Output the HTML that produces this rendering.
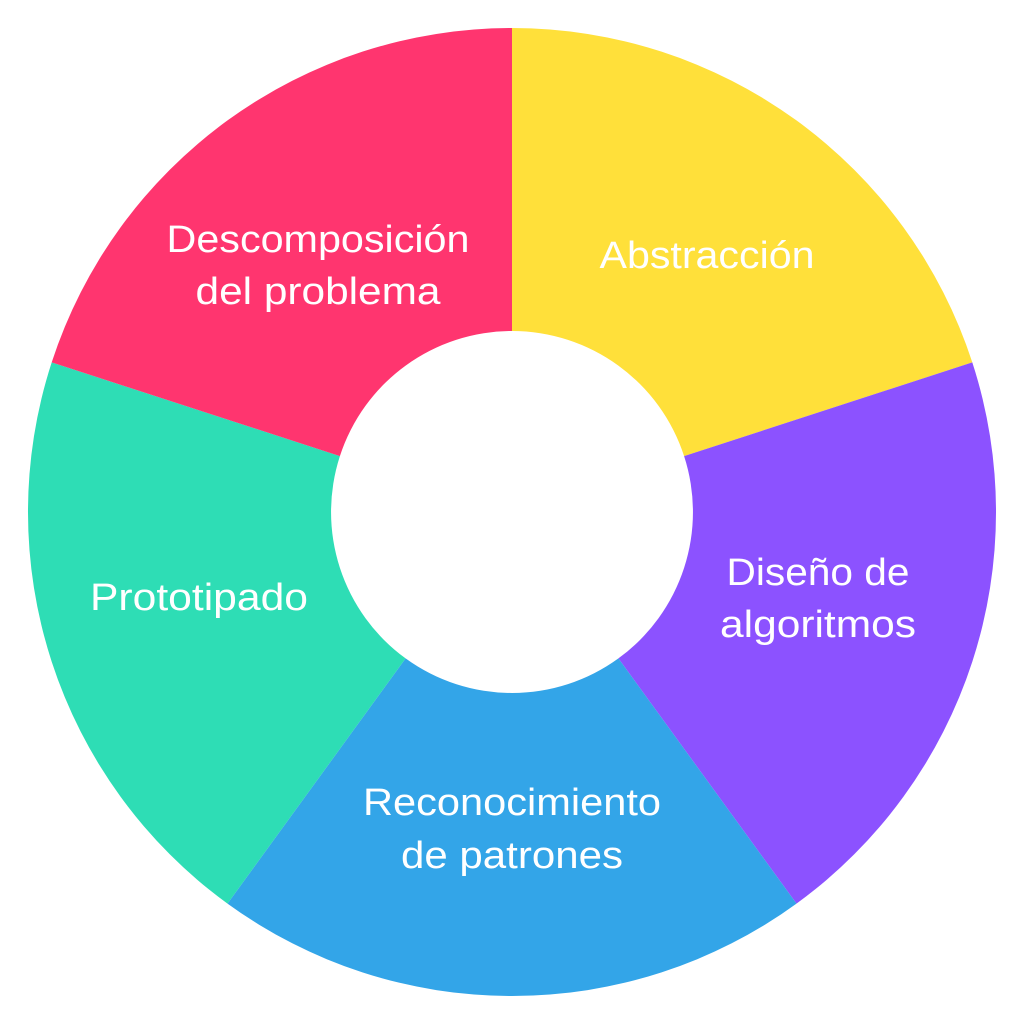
<!DOCTYPE html>
<html><head><meta charset="utf-8"><style>html,body{margin:0;padding:0;background:#fff}svg{display:block}</style></head>
<body>
<svg width="1024" height="1024" viewBox="0 0 1024 1024" xmlns="http://www.w3.org/2000/svg">
<path d="M512,28 A484,484 0 0 1 972.3,362.4 L684.1,456.1 A181,181 0 0 0 512,331 Z" fill="#FFE03A"/>
<path d="M972.3,362.4 A484,484 0 0 1 796.5,903.6 L618.4,658.4 A181,181 0 0 0 684.1,456.1 Z" fill="#8C52FF"/>
<path d="M796.5,903.6 A484,484 0 0 1 227.5,903.6 L405.6,658.4 A181,181 0 0 0 618.4,658.4 Z" fill="#33A5E8"/>
<path d="M227.5,903.6 A484,484 0 0 1 51.7,362.4 L339.9,456.1 A181,181 0 0 0 405.6,658.4 Z" fill="#2EDDB5"/>
<path d="M51.7,362.4 A484,484 0 0 1 512,28 L512,331 A181,181 0 0 0 339.9,456.1 Z" fill="#FF356F"/>
<g fill="#fff" font-family="Liberation Sans, sans-serif" font-size="38" text-anchor="middle" lengthAdjust="spacingAndGlyphs">
<text x="707" y="268" textLength="215" lengthAdjust="spacingAndGlyphs">Abstracción</text>
<text x="318" y="252" textLength="303" lengthAdjust="spacingAndGlyphs">Descomposición</text>
<text x="318" y="304" textLength="245" lengthAdjust="spacingAndGlyphs">del problema</text>
<text x="818" y="585" textLength="183" lengthAdjust="spacingAndGlyphs">Diseño de</text>
<text x="818" y="637" textLength="196" lengthAdjust="spacingAndGlyphs">algoritmos</text>
<text x="512" y="815" textLength="298" lengthAdjust="spacingAndGlyphs">Reconocimiento</text>
<text x="512" y="868" textLength="222" lengthAdjust="spacingAndGlyphs">de patrones</text>
<text x="199" y="610" textLength="218" lengthAdjust="spacingAndGlyphs">Prototipado</text>
</g>
</svg>
</body></html>
